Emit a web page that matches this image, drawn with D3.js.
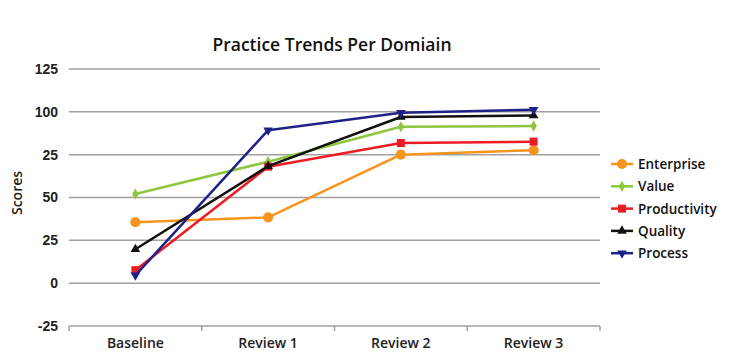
<!DOCTYPE html>
<html>
<head>
<meta charset="utf-8">
<script src="https://cdn.jsdelivr.net/npm/d3@7"></script>
<style>
  body { margin: 0; background: #fff; }
  svg { font-family: "Open Sans", sans-serif; }
</style>
</head>
<body>
<div id="chart"></div>
<script>
// chart data
const categories = ["Baseline", "Review 1", "Review 2", "Review 3"];
const enterprise   = [35.6, 38.4, 75, 77.6];
const value        = [52, 70.9, 91.3, 91.7];
const productivity = [7.6, 68, 81.8, 82.6];
const quality      = [19.8, 68.3, 97, 97.9];
const process      = [4.6, 89.3, 99.4, 101.2];
const yTicks      = [-25, 0, 25, 50, 75, 100, 125];
const yTickLabels = ["-25", "0", "25", "50", "25", "100", "125"]; // as printed in the original

const series = [
  { name: "Enterprise",   values: enterprise,   color: "#F7941D", symbol: d3.symbolCircle,   size: 80 },
  { name: "Value",        values: value,        color: "#8DC63F", symbol: d3.symbolDiamond,  size: 36 },
  { name: "Productivity", values: productivity, color: "#ED1C24", symbol: d3.symbolSquare,   size: 64 },
  { name: "Quality",      values: quality,      color: "#111111", symbol: d3.symbolTriangle, size: 40 },
  { name: "Process",      values: process,      color: "#1E2288", symbol: d3.symbolTriangle, size: 40, flip: true }
];

const svgWidth = 747, svgHeight = 363;
const margin = { top: 69, right: 147, bottom: 37, left: 69 };
const width = svgWidth - margin.left - margin.right;
const height = svgHeight - margin.top - margin.bottom;

const svg = d3.select("#chart").append("svg")
  .attr("width", svgWidth).attr("height", svgHeight);

const g = svg.append("g").attr("transform", "translate(" + margin.left + "," + margin.top + ")");

const x = d3.scaleBand().domain(categories).range([0, width]);
const y = d3.scaleLinear().domain([-25, 125]).range([height, 0]);

// gridlines
g.append("g").selectAll("line").data(yTicks.filter(t => t > -25)).join("line")
  .attr("x1", 0).attr("x2", width)
  .attr("y1", d => y(d)).attr("y2", d => y(d))
  .attr("stroke", "#a0a0a0").attr("stroke-width", 1.5);

// y labels
const yAxis = d3.axisLeft(y).tickValues(yTicks).tickSize(0).tickPadding(11)
  .tickFormat((d, i) => yTickLabels[i]);
g.append("g").call(yAxis)
  .call(s => s.select(".domain").remove())
  .selectAll("text").attr("font-size", 14).attr("font-weight", 600).attr("fill", "#222");

// x axis with ticks at band boundaries
const xg = g.append("g").attr("transform", "translate(0," + height + ")");
xg.append("line").attr("x1", 0).attr("x2", width).attr("stroke", "#a0a0a0").attr("stroke-width", 1.5);
xg.selectAll("line.tick").data(d3.range(categories.length + 1)).join("line")
  .attr("class", "tick")
  .attr("x1", i => i * x.step()).attr("x2", i => i * x.step())
  .attr("y1", 0).attr("y2", 5)
  .attr("stroke", "#a0a0a0").attr("stroke-width", 1.5);
xg.selectAll("text").data(categories).join("text")
  .attr("x", d => x(d) + x.bandwidth() / 2).attr("y", 22)
  .attr("text-anchor", "middle").attr("font-size", 14).attr("font-weight", 600).attr("fill", "#222")
  .text(d => d);

// lines and markers
const line = d3.line()
  .x((d, i) => x(categories[i]) + x.bandwidth() / 2)
  .y(d => y(d));

series.forEach(s => {
  g.append("path").datum(s.values)
    .attr("fill", "none").attr("stroke", s.color).attr("stroke-width", 2.5)
    .attr("stroke-linejoin", "round").attr("d", line);
  g.append("g").selectAll("path").data(s.values).join("path")
    .attr("d", d3.symbol().type(s.symbol).size(s.size))
    .attr("transform", (d, i) => "translate(" + (x(categories[i]) + x.bandwidth() / 2) + "," + y(d) + ")" + (s.flip ? " rotate(180)" : ""))
    .attr("fill", s.color);
});

// title
svg.append("text").attr("x", 332).attr("y", 51)
  .attr("text-anchor", "middle").attr("font-size", 17.5).attr("font-weight", 600).attr("fill", "#111")
  .text("Practice Trends Per Domiain");

// y axis title
svg.append("text").attr("transform", "translate(22,193) rotate(-90)")
  .attr("text-anchor", "middle").attr("font-size", 14).attr("font-weight", 600).attr("fill", "#222")
  .text("Scores");

// legend
const legend = svg.append("g").attr("transform", "translate(611,164)");
const rows = legend.selectAll("g").data(series).join("g")
  .attr("transform", (d, i) => "translate(0," + i * 22.3 + ")");
rows.append("line").attr("x1", 0).attr("x2", 22)
  .attr("stroke", d => d.color).attr("stroke-width", 2.5);
rows.append("path")
  .attr("d", d => d3.symbol().type(d.symbol).size(d.size)())
  .attr("transform", d => "translate(11,0)" + (d.flip ? " rotate(180)" : ""))
  .attr("fill", d => d.color);
rows.append("text").attr("x", 27).attr("y", 5)
  .attr("font-size", 13.5).attr("font-weight", 600).attr("fill", "#111")
  .text(d => d.name);
</script>
</body>
</html>
